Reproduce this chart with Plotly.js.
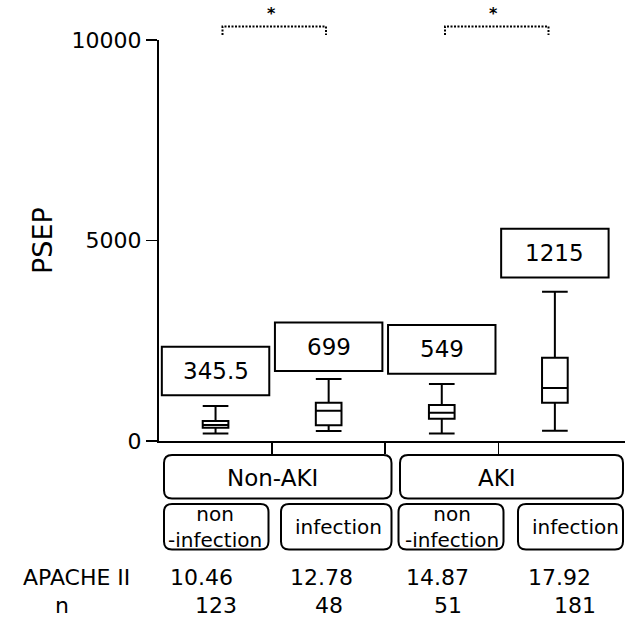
<!DOCTYPE html>
<html>
<head>
<meta charset="utf-8">
<script src="https://cdn.plot.ly/plotly-3.0.1.min.js"></script>
<style>html,body{margin:0;padding:0;background:#fff;}#chart{width:625px;height:620px;}</style>
</head>
<body>
<div id="chart"></div>
<script>
// ---- data ----
const groups = ["Non-AKI", "AKI"];
const subgroups = ["non<br>-infection", "infection", "non<br>-infection", "infection"];
const medianLabels = ["345.5", "699", "549", "1215"];
const lowerFence = [190, 250, 190, 255];
const q1 = [330, 390, 555, 955];
const median = [400, 755, 705, 1320];
const q3 = [500, 955, 900, 2075];
const upperFence = [870, 1545, 1420, 3720];
const apacheII = ["10.46", "12.78", "14.87", "17.92"];
const nCounts = ["123", "48", "51", "181"];
const yTicks = [0, 5000, 10000];

// ---- layout helpers ----
const W = 625, H = 620;
const L = 159, R = 625, T = 40, B = 441;
const FONT = "DejaVu Sans";
const fx = p => (p - L) / (R - L);
const fy = p => (B - p) / (B - T);
const idx = [0, 1, 2, 3];

function rrect(x0, y0, x1, y1, r) {
  const X0 = fx(x0), X1 = fx(x1), Y0 = fy(y0), Y1 = fy(y1);
  const rx = r / (R - L), ry = r / (B - T);
  return `M ${X0 + rx} ${Y0} L ${X1 - rx} ${Y0} Q ${X1} ${Y0} ${X1} ${Y0 - ry} ` +
         `L ${X1} ${Y1 + ry} Q ${X1} ${Y1} ${X1 - rx} ${Y1} ` +
         `L ${X0 + rx} ${Y1} Q ${X0} ${Y1} ${X0} ${Y1 + ry} ` +
         `L ${X0} ${Y0 - ry} Q ${X0} ${Y0} ${X0 + rx} ${Y0} Z`;
}

const shapes = [];
const annotations = [];
const lineStyle = {color: "#000", width: 2};
function note(o) {
  return Object.assign({showarrow: false, xanchor: "center", yanchor: "middle", borderpad: 0}, o);
}

// median label boxes (bottom in y units, above each upper whisker)
const labelBase = [1140, 1745, 1680, 4080];
const labelH = 1210;
idx.forEach(i => {
  shapes.push({type: "rect", xref: "x", yref: "y", x0: i - 0.475, x1: i + 0.475,
    y0: labelBase[i], y1: labelBase[i] + labelH, line: lineStyle, fillcolor: "rgba(0,0,0,0)"});
  annotations.push(note({xref: "x", yref: "y", x: i, y: labelBase[i] + labelH / 2,
    text: medianLabels[i], font: {family: FONT, size: 23, color: "#000"}}));
});

// significance brackets
[[222.5, 326, 271], [445, 548.5, 493]].forEach(b => {
  shapes.push({type: "path", xref: "paper", yref: "paper",
    path: `M ${fx(b[0])} ${fy(35)} L ${fx(b[0])} ${fy(26.5)} L ${fx(b[1])} ${fy(26.5)} L ${fx(b[1])} ${fy(35)}`,
    line: {color: "#000", width: 2, dash: "2px,1.5px"}});
  annotations.push(note({xref: "paper", yref: "paper", x: fx(b[2]), y: fy(13), text: "<b>*</b>",
    font: {family: FONT, size: 16, color: "#000"}}));
});

// group boxes
const groupBoxes = [[164, 391.5, 272.5], [400, 623, 497]];
groupBoxes.forEach((g, k) => {
  shapes.push({type: "path", xref: "paper", yref: "paper", path: rrect(g[0], 455, g[1], 498.5, 8), line: lineStyle});
  annotations.push(note({xref: "paper", yref: "paper", x: fx(g[2]), y: fy(477.5), text: groups[k],
    font: {family: FONT, size: 23, color: "#000"}}));
});

// subgroup boxes
const subBoxes = [[164, 268.5, 215], [281, 391.5, 338], [398.5, 503.5, 452], [518, 623, 575.5]];
subBoxes.forEach((s, i) => {
  shapes.push({type: "path", xref: "paper", yref: "paper", path: rrect(s[0], 504, s[1], 549.5, 8), line: lineStyle});
  annotations.push(note({xref: "paper", yref: "paper", x: fx(s[2]), y: fy(527), text: subgroups[i],
    font: {family: FONT, size: 20, color: "#000"}}));
});

// bottom rows
const rowFont = {family: FONT, size: 22, color: "#000"};
annotations.push(note({xref: "paper", yref: "paper", x: fx(76), y: fy(577), text: "APACHE II", font: rowFont}));
annotations.push(note({xref: "paper", yref: "paper", x: fx(62), y: fy(605), text: "n", font: rowFont}));
const apacheX = [201, 321.5, 437, 559];
const nX = [215.5, 329, 448, 575];
idx.forEach(i => {
  annotations.push(note({xref: "paper", yref: "paper", x: fx(apacheX[i]), y: fy(577), text: apacheII[i], font: rowFont}));
  annotations.push(note({xref: "paper", yref: "paper", x: fx(nX[i]), y: fy(605), text: nCounts[i], font: rowFont}));
});

// y title
annotations.push(note({xref: "paper", yref: "paper", x: fx(42), y: fy(240), text: "PSEP", textangle: -90,
  font: {family: FONT, size: 27, color: "#000"}}));

const trace = {
  type: "box", x: idx, q1: q1, median: median, q3: q3,
  lowerfence: lowerFence, upperfence: upperFence,
  width: 0.227, whiskerwidth: 1, boxpoints: false,
  fillcolor: "#fff", line: {color: "#000", width: 2},
  hoverinfo: "skip", showlegend: false
};

const layout = {
  width: W, height: H,
  margin: {l: L, r: W - R, t: T, b: H - B, pad: 0},
  paper_bgcolor: "#fff", plot_bgcolor: "#fff",
  font: {family: FONT, color: "#000"},
  xaxis: {range: [-0.5, 3.62], showline: true, linecolor: "#000", linewidth: 2,
    ticks: "outside", tickvals: [0.5, 1.5, 2.5], ticklen: 11, tickwidth: 1.5, tickcolor: "#000",
    showticklabels: false, showgrid: false, zeroline: false, fixedrange: true},
  yaxis: {range: [0, 10000], showline: true, linecolor: "#000", linewidth: 2,
    ticks: "outside", tickvals: yTicks, ticktext: yTicks.map(String), ticklen: 11, tickwidth: 1.5, tickcolor: "#000",
    tickfont: {family: FONT, size: 22, color: "#000"},
    showgrid: false, zeroline: false, fixedrange: true},
  shapes: shapes,
  annotations: annotations
};

Plotly.newPlot("chart", [trace], layout, {staticPlot: true, displayModeBar: false});
</script>
</body>
</html>
